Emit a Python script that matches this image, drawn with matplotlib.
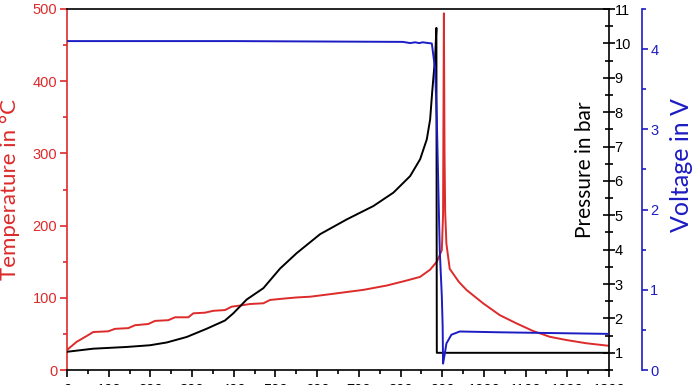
import matplotlib
matplotlib.use("Agg")
import matplotlib.pyplot as plt
from matplotlib.ticker import MultipleLocator

# temperature (deg C) vs time (s)
time_t = [0, 23, 47, 63, 99, 115, 147, 163, 195, 211, 243, 259, 291, 303, 331, 351,
          379, 395, 419, 439, 471, 487, 518, 551, 583, 631, 711, 767, 815, 847, 871,
          887, 899, 902, 904, 905.5, 907, 910, 918, 940, 958, 998, 1038, 1078, 1118,
          1158, 1198, 1246, 1300]
temp = [27.7, 39, 47, 52.6, 53.6, 57, 58, 62, 63.7, 68, 69, 73, 73, 78.5, 79.4, 82,
        83, 87.7, 89.6, 91.4, 92.4, 97, 98.8, 100.5, 101.5, 105, 111, 117, 124, 129, 139,
        150, 166, 215, 494, 300, 220, 175, 140, 122, 111, 92.4, 76, 64.6, 54,
        46, 41.5, 37, 33.5]

# pressure (bar) vs time (s)
time_p = [0, 63, 143, 199, 239, 287, 335, 379, 399, 431, 471, 511, 551, 607, 671,
          735, 783, 823, 847, 863, 871, 876, 883, 886, 887, 1300]
pres = [1.03, 1.12, 1.17, 1.22, 1.30, 1.46, 1.70, 1.94, 2.15, 2.55, 2.88, 3.45, 3.9,
        4.45, 4.88, 5.27, 5.66, 6.14, 6.63, 7.21, 7.79, 8.6, 9.6, 10.45, 1.0, 1.0]

# voltage (V) vs time (s)
time_v = [0, 400, 806, 823, 835, 845, 853, 875, 883, 887, 891, 894, 899, 901, 902,
          906, 910, 922, 942, 1038, 1300]
volt = [4.10, 4.10, 4.09, 4.075, 4.085, 4.075, 4.085, 4.07, 3.75, 3.12, 2.2, 1.5, 0.92,
        0.55, 0.08, 0.2, 0.33, 0.44, 0.48, 0.47, 0.45]

red = '#dd2a2a'
blue = '#1c1cc4'
lab_font = 'Lato'
tick_font = 'Liberation Sans'

fig = plt.figure(figsize=(6.96, 3.85), dpi=100)
ax = fig.add_axes([67/696, 15/385, 542/696, 361/385])
ax2 = ax.twinx()
ax3 = ax.twinx()

ax.plot(time_t, temp, color=red, lw=1.4, zorder=3)
ax2.plot(time_p, pres, color='black', lw=1.4)
ax3.plot(time_v, volt, color=blue, lw=1.4)

ax.set_xlim(0, 1300)
ax.set_ylim(0, 500)
ax2.set_ylim(0.5, 11)
ax3.set_ylim(0, 4.5)

ax.xaxis.set_major_locator(MultipleLocator(100))
ax.xaxis.set_minor_locator(MultipleLocator(50))
ax.yaxis.set_major_locator(MultipleLocator(100))
ax.yaxis.set_minor_locator(MultipleLocator(50))
ax2.yaxis.set_major_locator(MultipleLocator(1))
ax2.yaxis.set_minor_locator(MultipleLocator(0.5))
ax3.yaxis.set_major_locator(MultipleLocator(1))
ax3.yaxis.set_minor_locator(MultipleLocator(0.5))

# spines
ax.spines['left'].set_color(red)
ax.spines['right'].set_visible(False)
for s in ['left', 'top', 'bottom']:
    ax2.spines[s].set_visible(False)
    ax3.spines[s].set_visible(False)
ax3.spines['right'].set_position(('outward', 33 * 0.72))
ax3.spines['right'].set_color(blue)
for a in [ax, ax2, ax3]:
    for s in a.spines.values():
        s.set_linewidth(1.2)

ax.tick_params(axis='x', which='major', direction='out', length=5, width=1.2, pad=4,
               labelsize=10.5)
ax.tick_params(axis='x', which='minor', direction='out', length=3, width=1.2)
ax.tick_params(axis='y', which='major', direction='out', length=5, width=1.2, color=red,
               labelcolor=red, labelsize=10.5, pad=2)
ax.tick_params(axis='y', which='minor', direction='out', length=3, width=1.2, color=red)
ax2.tick_params(axis='y', which='major', direction='inout', length=8, width=1.2,
                labelsize=10.5, pad=0)
ax2.tick_params(axis='y', which='minor', direction='inout', length=6, width=1.2)
ax3.tick_params(axis='y', which='major', direction='out', length=4, width=1.2, color=blue,
                labelcolor=blue, labelsize=10.5, pad=2)
ax3.tick_params(axis='y', which='minor', direction='out', length=3, width=1.2, color=blue)

for a in [ax, ax2, ax3]:
    for lbl in a.get_xticklabels() + a.get_yticklabels():
        lbl.set_fontfamily(tick_font)

ax.set_ylabel('Temperature in °C', color=red, fontsize=16, family=lab_font)
ax.yaxis.set_label_coords(-0.087, 0.5)
ax2.set_ylabel('Pressure in bar', color='black', fontsize=15, family=lab_font)
ax2.yaxis.set_label_coords(0.937, 0.554)
ax3.set_ylabel('Voltage in V', color=blue, fontsize=18, family=lab_font)
ax3.yaxis.set_label_coords(1.112, 0.568)

fig.savefig('out.png', dpi=100)
